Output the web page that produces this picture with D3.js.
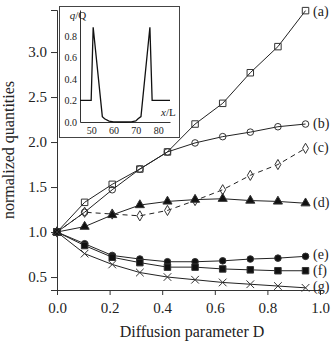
<!DOCTYPE html>
<html>
<head>
<meta charset="utf-8">
<script src="https://cdn.jsdelivr.net/npm/d3@7"></script>
<style>
  body { margin: 0; background: #fff; }
  text { font-family: "Liberation Serif", "DejaVu Serif", serif; fill: #222; }
</style>
</head>
<body>
<div id="chart"></div>
<script>
// data
var dValues = [0, 0.105, 0.21, 0.315, 0.42, 0.525, 0.63, 0.735, 0.84, 0.945];
var seriesA = [1.0, 1.33, 1.53, 1.70, 1.89, 2.20, 2.43, 2.77, 3.06, 3.46];
var seriesB = [1.0, 1.22, 1.47, 1.70, 1.89, 1.99, 2.06, 2.11, 2.17, 2.20];
var seriesC = [1.0, 1.22, 1.20, 1.18, 1.24, 1.35, 1.47, 1.63, 1.75, 1.93];
var seriesD = [1.0, 1.06, 1.19, 1.30, 1.34, 1.36, 1.37, 1.35, 1.34, 1.32];
var seriesE = [1.0, 0.87, 0.74, 0.70, 0.67, 0.67, 0.68, 0.70, 0.71, 0.73];
var seriesF = [1.0, 0.85, 0.72, 0.66, 0.61, 0.61, 0.59, 0.58, 0.57, 0.57];
var seriesG = [1.0, 0.76, 0.64, 0.55, 0.50, 0.47, 0.44, 0.42, 0.40, 0.38];
var seriesLabels = ["(a)", "(b)", "(c)", "(d)", "(e)", "(f)", "(g)"];
var xTicks = [0, 0.2, 0.4, 0.6, 0.8, 1.0];
var yTicks = [0.5, 1.0, 1.5, 2.0, 2.5, 3.0];

// inset: charge profile q/Q along x/L
var insetX = [45, 50, 50.9, 55, 56, 58, 60, 62, 66, 68, 70, 71, 72.3, 76.3, 77.3, 85.3];
var insetQ = [0.2, 0.2, 0.88, 0.05, 0.03, 0.008, 0.001, 0, 0, 0.001, 0.01, 0.03, 0.05, 0.88, 0.2, 0.2];
var insetXTicks = [50, 60, 70, 80];
var insetYTicks = [0, 0.2, 0.4, 0.6, 0.8];

var width = 331, height = 341;

var svg = d3.select("#chart").append("svg")
    .attr("width", width)
    .attr("height", height);

var x = d3.scaleLinear().domain([0, 1]).range([57, 320]);
var y = d3.scaleLinear().domain([0.356, 3.467]).range([290, 10]);

// axes
svg.append("g")
    .attr("class", "main-axis")
    .attr("transform", "translate(0,290)")
    .call(d3.axisBottom(x).tickValues(xTicks).tickFormat(d3.format(".1f")).tickSizeOuter(0).tickSize(5).tickPadding(7));
svg.append("g")
    .attr("class", "main-axis")
    .attr("transform", "translate(57,0)")
    .call(d3.axisLeft(y).tickValues(yTicks).tickFormat(d3.format(".1f")).tickSizeOuter(0).tickSize(6).tickPadding(4));

svg.selectAll(".main-axis .tick text").attr("font-size", 15).attr("font-family", "Liberation Serif");
svg.selectAll(".main-axis .domain, .main-axis .tick line").attr("stroke", "#333");

svg.append("text")
    .attr("x", 192).attr("y", 337)
    .attr("text-anchor", "middle")
    .attr("font-size", 16)
    .text("Diffusion parameter D");

svg.append("text")
    .attr("transform", "translate(14,150) rotate(-90)")
    .attr("text-anchor", "middle")
    .attr("font-size", 16)
    .text("normalized quantities");

// series
var series = [
  { vals: seriesA, marker: "square", fill: "none", dash: null },
  { vals: seriesB, marker: "circle", fill: "none", dash: null },
  { vals: seriesC, marker: "diamond", fill: "none", dash: "5,4" },
  { vals: seriesD, marker: "triangle", fill: "#111", dash: null },
  { vals: seriesE, marker: "circle", fill: "#111", dash: null },
  { vals: seriesF, marker: "square", fill: "#111", dash: null },
  { vals: seriesG, marker: "cross", fill: "none", dash: null }
];

var line = d3.line()
    .x(function(d, i) { return x(dValues[i]); })
    .y(function(d) { return y(d); });

var symbolTypes = {
  square: d3.symbolSquare,
  circle: d3.symbolCircle,
  diamond: d3.symbolDiamond,
  triangle: d3.symbolTriangle,
  cross: d3.symbolX
};
var symbolSizes = { square: 42, circle: 34, diamond: 30, triangle: 36, cross: 40 };

series.forEach(function(s) {
  svg.append("path")
      .datum(s.vals)
      .attr("fill", "none")
      .attr("stroke", "#222")
      .attr("stroke-width", 1)
      .attr("stroke-dasharray", s.dash)
      .attr("d", line);

  svg.append("g").selectAll("path")
      .data(s.vals)
      .enter()
      .append("path")
      .attr("transform", function(d, i) { return "translate(" + x(dValues[i]) + "," + y(d) + ")"; })
      .attr("d", d3.symbol().type(symbolTypes[s.marker]).size(symbolSizes[s.marker]))
      .attr("fill", s.fill)
      .attr("stroke", "#333")
      .attr("stroke-width", 1);
});

// right-hand labels (label centre heights in data units)
var labelY = [3.46, 2.21, 1.95, 1.33, 0.756, 0.578, 0.40];
svg.append("g").selectAll("text")
    .data(seriesLabels)
    .enter()
    .append("text")
    .attr("x", 313)
    .attr("y", function(d, i) { return y(labelY[i]) + 5; })
    .attr("font-size", 14)
    .text(function(d) { return d; });

// inset
var inset = svg.append("g");
inset.append("rect")
    .attr("x", 59.5).attr("y", 6.5)
    .attr("width", 120).attr("height", 131)
    .attr("fill", "#fff")
    .attr("stroke", "#444");

var ix = d3.scaleLinear().domain([45, 85.3]).range([80, 170]);
var iy = d3.scaleLinear().domain([0, 1.04]).range([122, 10]);

inset.append("g")
    .attr("transform", "translate(0,122)")
    .call(d3.axisBottom(ix).tickValues(insetXTicks).tickSizeOuter(0).tickSize(0).tickPadding(5));
inset.append("g")
    .attr("transform", "translate(80,0)")
    .call(d3.axisLeft(iy).tickValues(insetYTicks).tickFormat(d3.format(".1f")).tickSizeOuter(0).tickSize(0).tickPadding(3));
inset.selectAll(".tick text").attr("font-size", 10).attr("font-family", "Liberation Serif");
inset.selectAll(".domain").attr("stroke", "#333");

inset.append("path")
    .datum(insetQ)
    .attr("fill", "none")
    .attr("stroke", "#111")
    .attr("stroke-width", 1.3)
    .attr("d", d3.line()
        .x(function(d, i) { return ix(insetX[i]); })
        .y(function(d) { return iy(d); }));

var qLabel = inset.append("text")
    .attr("x", 78).attr("y", 19)
    .attr("text-anchor", "middle")
    .attr("font-size", 11);
qLabel.append("tspan").attr("font-style", "italic").text("q");
qLabel.append("tspan").text("/Q");

var xlLabel = inset.append("text")
    .attr("x", 161).attr("y", 116)
    .attr("font-size", 11);
xlLabel.append("tspan").attr("font-style", "italic").text("x");
xlLabel.append("tspan").text("/L");
</script>
</body>
</html>
